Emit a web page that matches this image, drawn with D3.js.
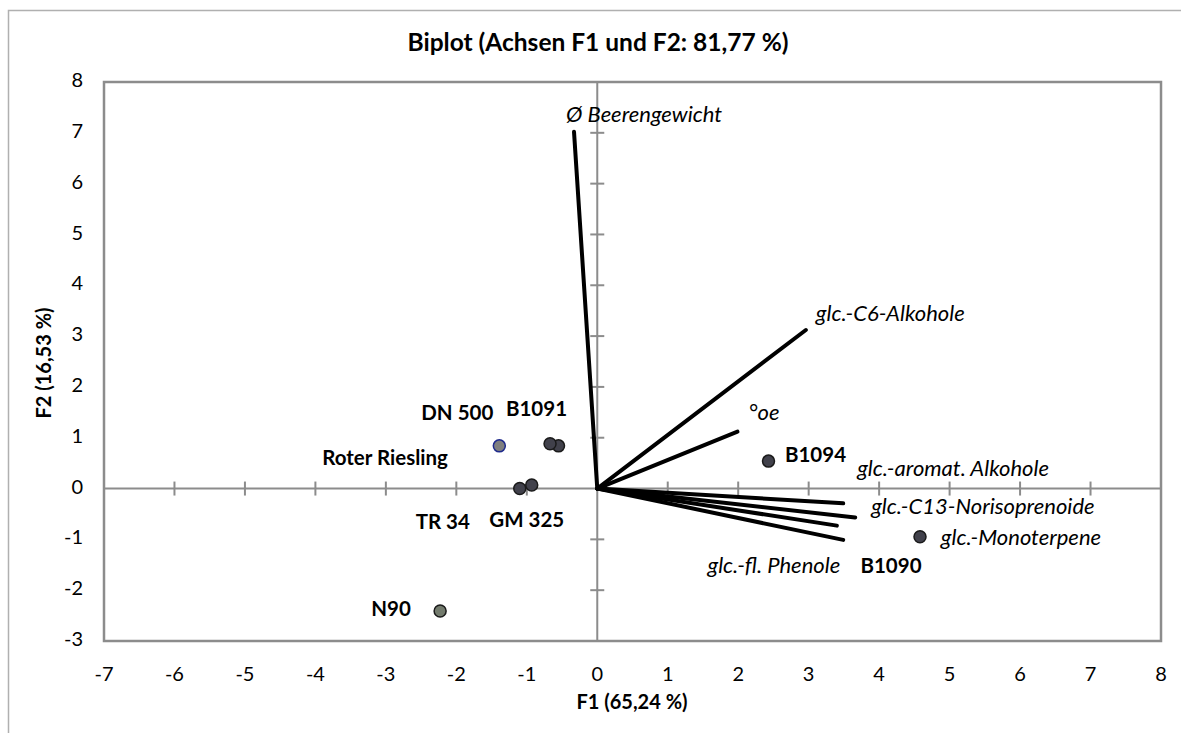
<!DOCTYPE html>
<html>
<head>
<meta charset="utf-8">
<script src="https://cdn.jsdelivr.net/npm/d3@7"></script>
<style>
  body { margin: 0; background: #fff; }
  text { font-family: Lato, "Open Sans", sans-serif; fill: #000; }
</style>
</head>
<body>
<svg id="chart" width="1181" height="733"></svg>
<script>
// --- data: observations (F1, F2) ---
const obsNames = ["DN 500", "B1091", "Roter Riesling", "TR 34", "GM 325", "N90", "B1094", "B1090"];
const obsF1 = [-1.39, -0.55, -0.67, -1.10, -0.93, -2.23, 2.43, 4.58];
const obsF2 = [0.84, 0.84, 0.88, 0.00, 0.07, -2.41, 0.54, -0.95];

// --- data: variables (loadings, scaled) ---
const varNames = ["Ø Beerengewicht", "glc.-C6-Alkohole", "°oe", "glc.-aromat. Alkohole",
  "glc.-C13-Norisoprenoide", "glc.-Monoterpene", "glc.-fl. Phenole"];
const varF1 = [-0.33, 2.96, 1.99, 3.49, 3.66, 3.40, 3.49];
const varF2 = [7.02, 3.12, 1.12, -0.29, -0.57, -0.73, -1.01];

const xTicks = d3.range(-7, 9);
const yTicks = d3.range(-3, 9);

// --- label placement (pixel offsets from the mark) ---
const obsLabelOffset = {
  "DN 500": [-42, -31], "B1091": [-22, -35], "Roter Riesling": [-165, 16],
  "TR 34": [-77, 35], "GM 325": [-5, 37], "N90": [-49, 0],
  "B1094": [47, -4], "B1090": [-29, 31]
};
const varLabelOffset = {
  "Ø Beerengewicht": [-8, -15, "start"], "glc.-C6-Alkohole": [10, -15, "start"],
  "°oe": [11, -17, "start"], "glc.-aromat. Alkohole": [14, -33, "start"],
  "glc.-C13-Norisoprenoide": [16, -9, "start"], "glc.-Monoterpene": [104, 14, "start"],
  "glc.-fl. Phenole": [-3, 28, "end"]
};

// --- layout ---
const svg = d3.select("#chart");
const pLeft = 104, pTop = 82, pRight = 1161, pBottom = 641;
const axisGray = "#8c8c8c";

const x = d3.scaleLinear().domain([-7, 8]).range([pLeft, pRight]);
const y = d3.scaleLinear().domain([-3, 8]).range([pBottom, pTop]);

// outer chart frame (cropped at right / bottom)
svg.append("path")
  .attr("d", `M8.5,733 V10.5 H1181`)
  .attr("fill", "none").attr("stroke", "#b0b0b0").attr("stroke-width", 1.5);

// plot area border
svg.append("rect")
  .attr("x", pLeft).attr("y", pTop)
  .attr("width", pRight - pLeft).attr("height", pBottom - pTop)
  .attr("fill", "none").attr("stroke", axisGray).attr("stroke-width", 2.5);

// zero axes
svg.append("line")
  .attr("x1", pLeft).attr("x2", pRight).attr("y1", y(0)).attr("y2", y(0))
  .attr("stroke", axisGray).attr("stroke-width", 2);
svg.append("line")
  .attr("x1", x(0)).attr("x2", x(0)).attr("y1", pTop).attr("y2", pBottom)
  .attr("stroke", axisGray).attr("stroke-width", 2);

// cross tick marks on zero axes
svg.append("g").selectAll("line")
  .data(xTicks.filter(d => d > -7 && d < 8 && d !== 0))
  .join("line")
  .attr("x1", d => x(d)).attr("x2", d => x(d))
  .attr("y1", y(0) - 7).attr("y2", y(0) + 7)
  .attr("stroke", axisGray).attr("stroke-width", 2);
svg.append("g").selectAll("line")
  .data(yTicks.filter(d => d > -3 && d < 8 && d !== 0))
  .join("line")
  .attr("y1", d => y(d)).attr("y2", d => y(d))
  .attr("x1", x(0) - 7).attr("x2", x(0) + 7)
  .attr("stroke", axisGray).attr("stroke-width", 2);

// tick labels
svg.append("g").selectAll("text")
  .data(xTicks).join("text")
  .attr("x", d => x(d)).attr("y", 676)
  .attr("text-anchor", "middle").attr("dominant-baseline", "middle")
  .attr("font-size", 20)
  .text(d => d);
svg.append("g").selectAll("text")
  .data(yTicks).join("text")
  .attr("x", 83).attr("y", d => y(d))
  .attr("text-anchor", "end").attr("dominant-baseline", "middle")
  .attr("font-size", 20)
  .text(d => d);

// title and axis titles
svg.append("text")
  .attr("x", 598).attr("y", 45)
  .attr("text-anchor", "middle").attr("dominant-baseline", "middle")
  .attr("font-size", 24.5).attr("font-weight", "bold")
  .text("Biplot (Achsen F1 und F2: 81,77 %)");
svg.append("text")
  .attr("x", 632).attr("y", 704)
  .attr("text-anchor", "middle").attr("dominant-baseline", "middle")
  .attr("font-size", 20).attr("font-weight", "bold")
  .text("F1 (65,24 %)");
svg.append("text")
  .attr("transform", "translate(46,363) rotate(-90)")
  .attr("text-anchor", "middle").attr("dominant-baseline", "middle")
  .attr("font-size", 20).attr("font-weight", "bold")
  .text("F2 (16,53 %)");

// variable vectors
const vars = varNames.map((n, i) => ({ name: n, f1: varF1[i], f2: varF2[i] }));
svg.append("g").selectAll("line")
  .data(vars).join("line")
  .attr("x1", x(0)).attr("y1", y(0))
  .attr("x2", d => x(d.f1)).attr("y2", d => y(d.f2))
  .attr("stroke", "#000").attr("stroke-width", 4).attr("stroke-linecap", "round");
svg.append("g").selectAll("text")
  .data(vars).join("text")
  .attr("x", d => x(d.f1) + varLabelOffset[d.name][0])
  .attr("y", d => y(d.f2) + varLabelOffset[d.name][1])
  .attr("text-anchor", d => varLabelOffset[d.name][2])
  .attr("dominant-baseline", "middle")
  .attr("font-size", 22).attr("font-style", "italic")
  .attr("fill", "#222")
  .text(d => d.name);

// observations
const obs = obsNames.map((n, i) => ({ name: n, f1: obsF1[i], f2: obsF2[i] }));
const fillFor = n => n === "DN 500" ? "#7f7f7f" : n === "N90" ? "#737b6d" : "#41414b";
const strokeFor = n => n === "DN 500" ? "#1f2a8c" : "#1a1a1a";
svg.append("g").selectAll("circle")
  .data(obs).join("circle")
  .attr("cx", d => x(d.f1)).attr("cy", d => y(d.f2))
  .attr("r", 6)
  .attr("fill", d => fillFor(d.name))
  .attr("stroke", d => strokeFor(d.name)).attr("stroke-width", 1.5);
svg.append("g").selectAll("text")
  .data(obs).join("text")
  .attr("x", d => x(d.f1) + obsLabelOffset[d.name][0])
  .attr("y", d => y(d.f2) + obsLabelOffset[d.name][1])
  .attr("text-anchor", "middle").attr("dominant-baseline", "middle")
  .attr("font-size", 20.5).attr("font-weight", "bold")
  .text(d => d.name);
</script>
</body>
</html>
